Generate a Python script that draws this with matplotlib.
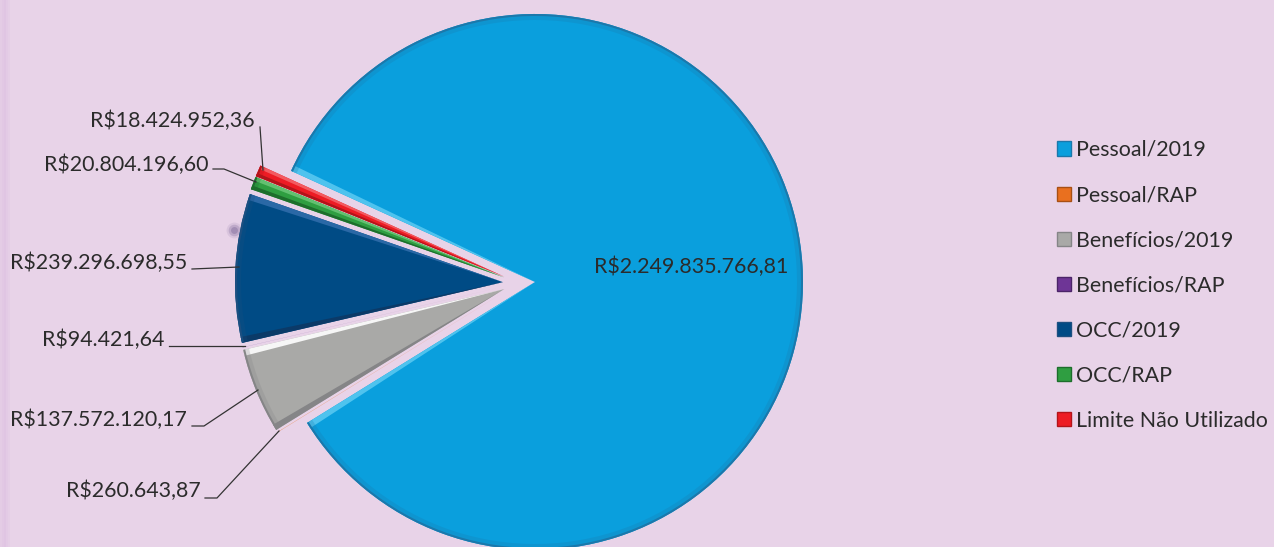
import matplotlib
matplotlib.use("Agg")
import matplotlib.pyplot as plt
import numpy as np
from matplotlib.patches import Patch, Polygon, Wedge

# ── Data ──────────────────────────────────────────────────
CATEGORIES = ["Pessoal/2019", "Pessoal/RAP", "Benefícios/2019", "Benefícios/RAP",
              "OCC/2019", "OCC/RAP", "Limite Não Utilizado"]
VALUES = [2249835766.81, 260643.87, 137572120.17, 94421.64,
          239296698.55, 20804196.60, 18424952.36]
LABELS = ["R$2.249.835.766,81", "R$260.643,87", "R$137.572.120,17", "R$94.421,64",
          "R$239.296.698,55", "R$20.804.196,60", "R$18.424.952,36"]

# ── Style ─────────────────────────────────────────────────
WIDTH, HEIGHT = 1274, 547
BACKGROUND = "#e8d3e8"
TEXT_COLOR = "#2b2b2b"
COLORS = ["#0a9fdd", "#e9701f", "#a9a9a7", "#6e3596", "#004b85", "#2f9e41", "#ed1c24"]
RIM_DARK = ["#1b78ab", "#a84f14", "#858587", "#4b2468", "#1c4f80", "#1d6e2c", "#b3141a"]
# bevel colours for the two straight edges of each slice (theta1 side, theta2 side)
EDGE_T1 = ["#4fc3ee", "#f0a060", "#f6f6f6", "#9a6cc0", "#2a68a6", "#63c070", "#f35a60"]
EDGE_T2 = ["#4fc3ee", "#f0a060", "#858587", "#9a6cc0", "#0b3a68", "#1d6e2c", "#b3141a"]

# label anchor (right edge, y) and leader polyline, in image pixels
LABEL_POS = [(788, 267), (201, 491), (187, 420), (164, 340), (187, 263), (208, 165), (255, 121)]
LEADERS = [None,
           [(205, 498), (217, 498), (279, 431)],
           [(192, 426), (204, 426), (258, 390)],
           [(169, 346), (245, 346)],
           [(192, 269), (239, 267)],
           [(213, 169), (224, 169), (256, 182)],
           [(260, 127), (263, 170)]]


def flip(y):
    """Image-style y (from the top) to axes y."""
    return HEIGHT - y


def add_bevel(ax, wedge, rim, edge_t1, edge_t2):
    """Fake the 3D bevel: darker rim on the arc, tapered slivers along straight edges."""
    cx, cy = wedge.center
    r, t1, t2 = wedge.r, wedge.theta1, wedge.theta2
    sliver = min(1.3, (t2 - t1) * 0.3)
    for start, inner, color in ((t1, t1 + sliver, edge_t1), (t2, t2 - sliver, edge_t2)):
        angles = np.deg2rad([start, inner])
        corners = [(cx, cy)] + [(cx + r * np.cos(a), cy + r * np.sin(a)) for a in angles]
        ax.add_patch(Polygon(corners, facecolor=color, edgecolor="none", zorder=3))
    ax.add_patch(Wedge((cx, cy), r, t1, t2, width=6, facecolor=rim, edgecolor="none",
                       alpha=0.25, zorder=3))
    ax.add_patch(Wedge((cx, cy), r, t1, t2, width=2, facecolor=rim, edgecolor="none", zorder=3))


fig = plt.figure(figsize=(WIDTH / 100, HEIGHT / 100), dpi=100, facecolor=BACKGROUND)
ax = fig.add_axes([0, 0, 1, 1])
plt.rcParams["font.family"] = ["Lato", "DejaVu Sans"]

wedges, _ = ax.pie(VALUES, colors=COLORS, explode=[16] * len(VALUES), startangle=155.5,
                   counterclock=False, center=(519, flip(283)), radius=268,
                   wedgeprops={"linewidth": 0})
for wedge, rim, edge_t1, edge_t2 in zip(wedges, RIM_DARK, EDGE_T1, EDGE_T2):
    add_bevel(ax, wedge, rim, edge_t1, edge_t2)

ax.set_xlim(0, WIDTH)
ax.set_ylim(0, HEIGHT)
ax.set_aspect("auto")
ax.axis("off")

# Paler strip down the left edge of the page
for x, alpha in zip(range(0, 10, 2), [0.25, 0.4, 0.5, 0.3, 0.15]):
    ax.axvspan(x, x + 2, color="#d9b8e0", alpha=alpha, linewidth=0, zorder=0)

# Small smudge left of the dark blue slice
for size, alpha in ((130, 0.12), (70, 0.25), (25, 0.35)):
    ax.scatter([234], [flip(230)], s=size, color="#6f5a8e", alpha=alpha, linewidth=0, zorder=1)

for text, (x, y), leader in zip(LABELS, LABEL_POS, LEADERS):
    ax.text(x, flip(y), text, ha="right", va="center", fontsize=15.4, color=TEXT_COLOR, zorder=5)
    if leader:
        xs, ys = zip(*leader)
        ax.plot(xs, [flip(v) for v in ys], color="#333333", linewidth=0.9, zorder=4)

handles = [Patch(facecolor=c, edgecolor=r, linewidth=1) for c, r in zip(COLORS, RIM_DARK)]
ax.legend(handles, CATEGORIES, loc="upper left", bbox_to_anchor=(1057 / WIDTH, 1 - 140 / HEIGHT),
          frameon=False, fontsize=15.4, labelcolor=TEXT_COLOR, handlelength=0.64, handleheight=0.64,
          handletextpad=0.23, labelspacing=1.175, borderpad=0, borderaxespad=0)

fig.savefig("out.png", dpi=100, facecolor=BACKGROUND)
